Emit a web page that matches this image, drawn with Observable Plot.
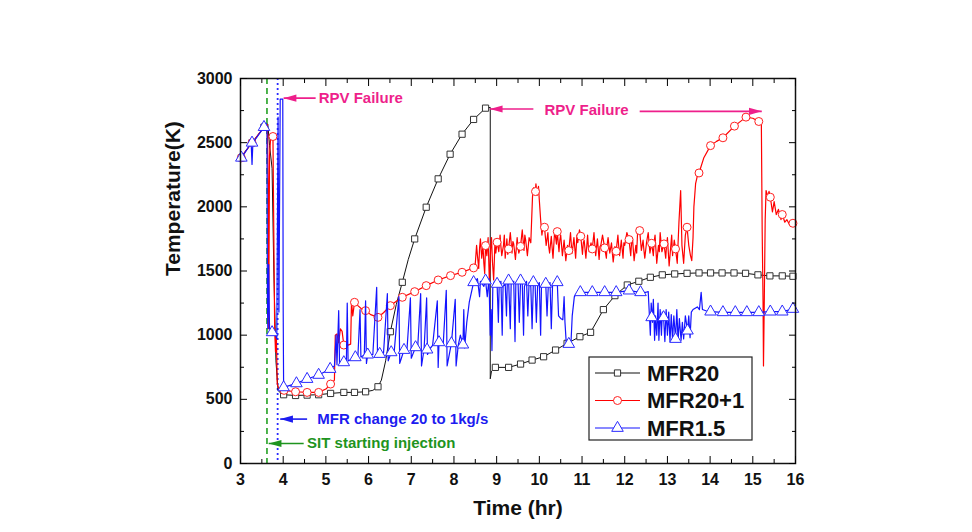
<!DOCTYPE html>
<html>
<head>
<meta charset="utf-8">
<script src="https://cdn.jsdelivr.net/npm/d3@7"></script>
<script src="https://cdn.jsdelivr.net/npm/@observablehq/plot@0.6"></script>
<style>
  html, body { margin: 0; padding: 0; background: #fff; }
  #chart { width: 972px; height: 532px; }
</style>
</head>
<body>
<div id="chart"></div>
<script>
// ---------- data (time [hr], temperature [K]) ----------
const xTicks = [3,4,5,6,7,8,9,10,11,12,13,14,15,16];
const yTicks = [0,500,1000,1500,2000,2500,3000];
const seriesNames = ["MFR20", "MFR20+1", "MFR1.5"];

const mfr20Line = [[3.0,2382],[3.27,2499],[3.55,2621],[3.64,2645],[3.68,2480],[3.74,2300],[3.78,1500],[3.83,800],[3.88,570],[3.95,545],[4.01,536],[4.29,530],[4.56,533],[4.83,536],[5.11,546],[5.42,554],[5.67,554],[5.93,559],[6.1,570],[6.22,598],[6.3,650],[6.4,800],[6.51,1027],[6.65,1240],[6.79,1412],[6.93,1590],[7.08,1750],[7.35,1997],[7.63,2218],[7.91,2410],[8.19,2566],[8.46,2681],[8.74,2769],[8.85,2775],[8.85,660],[8.88,720],[8.97,749],[9.28,749],[9.56,775],[9.83,806],[10.1,832],[10.38,884],[10.65,936],[10.95,988],[11.2,1022],[11.35,1110],[11.5,1199],[11.77,1308],[12.06,1391],[12.33,1420],[12.6,1451],[12.88,1470],[13.17,1477],[13.46,1482],[13.74,1485],[14.01,1485],[14.28,1485],[14.56,1485],[14.83,1482],[15.12,1470],[15.4,1462],[15.69,1462],[15.94,1459],[16.0,1458]];
const mfr20Marks = [[3.02,2382],[3.27,2499],[3.55,2621],[4.01,536],[4.29,530],[4.56,533],[4.83,536],[5.11,546],[5.42,554],[5.67,554],[5.93,559],[6.22,598],[6.51,1027],[6.79,1412],[7.08,1750],[7.35,1997],[7.63,2218],[7.91,2410],[8.19,2566],[8.46,2681],[8.74,2769],[8.97,749],[9.28,749],[9.56,775],[9.83,806],[10.1,832],[10.38,884],[10.65,936],[10.95,988],[11.2,1022],[11.5,1199],[11.77,1308],[12.06,1391],[12.33,1420],[12.6,1451],[12.88,1470],[13.17,1477],[13.46,1482],[13.74,1485],[14.01,1485],[14.28,1485],[14.56,1485],[14.83,1482],[15.12,1470],[15.4,1462],[15.69,1462],[15.94,1459]];

const mfr201Line = [[3.0,2382],[3.27,2499],[3.55,2621],[3.63,2640],[3.65,2150],[3.66,1050],[3.68,2400],[3.71,2560],[3.76,2548],[3.78,1800],[3.8,1060],[3.82,870],[3.84,1000],[3.86,620],[3.9,580],[4.02,570],[4.29,559],[4.56,554],[4.83,554],[5.0,580],[5.11,619],[5.2,650],[5.22,1000],[5.26,1010],[5.3,940],[5.34,1050],[5.38,1030],[5.42,923],[5.5,920],[5.58,930],[5.6,1260],[5.63,1150],[5.67,1256],[5.75,1230],[5.85,1200],[5.93,1191],[6.05,1160],[6.22,1139],[6.35,1175],[6.51,1230],[6.65,1265],[6.79,1295],[7.08,1339],[7.35,1386],[7.63,1430],[7.92,1464],[8.19,1490],[8.46,1524],
[8.50,1560],[8.53,1700],[8.55,1620],[8.58,1520],[8.60,1680],[8.62,1750],[8.65,1600],[8.68,1700],[8.70,1560],[8.72,1480],[8.74,1698],[8.77,1620],[8.80,1760],[8.83,1400],[8.86,1680],[8.88,1760],[8.90,1580],[8.93,1430],[8.96,1720],[8.98,1640],[9.01,1724],[9.05,1650],[9.08,1780],[9.10,1690],[9.12,1620],[9.16,1700],[9.18,1780],[9.20,1600],[9.24,1750],[9.26,1630],[9.28,1672],[9.32,1800],[9.36,1640],[9.38,1730],[9.40,1710],[9.44,1590],[9.48,1760],[9.50,1680],[9.52,1640],[9.56,1692],[9.60,1820],[9.64,1660],[9.66,1780],[9.68,1740],[9.72,1620],[9.76,1760],[9.80,1720],[9.84,2080],[9.87,2150],[9.90,2100],[9.92,2179],[9.95,2090],[9.98,2160],[10.00,2050],[10.03,1900],[10.06,1780],[10.09,1860],[10.12,1841],[10.16,1700],[10.20,1800],[10.22,1690],[10.24,1640],[10.28,1770],[10.30,1680],[10.32,1600],[10.36,1820],[10.40,1710],[10.42,1807],[10.46,1650],[10.48,1740],[10.50,1780],[10.54,1620],[10.58,1740],[10.60,1660],[10.62,1580],[10.66,1700],[10.69,1659],[10.73,1800],[10.75,1700],[10.77,1640],[10.81,1760],[10.85,1600],[10.88,1780],[10.90,1720],[10.94,1820],[10.97,1771],[11.01,1630],[11.03,1720],[11.05,1740],[11.09,1600],[11.13,1780],[11.15,1680],[11.17,1650],[11.21,1720],[11.24,1672],[11.28,1800],[11.30,1700],[11.32,1620],[11.36,1750],[11.40,1590],[11.42,1690],[11.44,1700],[11.48,1780],[11.53,1680],[11.57,1600],[11.59,1710],[11.61,1760],[11.65,1640],[11.69,1720],[11.71,1640],[11.73,1570],[11.77,1690],[11.80,1654],[11.84,1780],[11.86,1690],[11.88,1620],[11.92,1740],[11.96,1600],[11.98,1720],[12.00,1700],[12.05,1800],[12.10,1745],[12.14,1620],[12.16,1720],[12.18,1760],[12.22,1580],[12.26,1700],[12.28,1640],[12.30,1790],[12.35,1815],[12.39,1660],[12.43,1740],[12.45,1660],[12.47,1600],[12.51,1720],[12.55,1800],[12.59,1640],[12.63,1716],[12.67,1620],[12.69,1730],[12.71,1780],[12.75,1560],[12.79,1700],[12.81,1650],[12.83,1800],[12.87,1650],[12.92,1711],[12.96,1600],[12.98,1700],[13.00,1760],[13.04,1540],[13.08,1700],[13.10,1780],[13.12,1620],[13.16,1740],[13.19,1672],[13.23,1560],[13.27,1880],[13.31,2127],[13.34,1700],[13.38,1560],[13.42,1780],[13.46,1841],[13.50,1700],[13.54,1620],[13.57,1581],[13.60,1760],[13.62,2000],[13.66,2180],[13.70,2240],[13.74,2264],[13.85,2380],[14.01,2477],[14.15,2510],[14.30,2538],[14.57,2629],[14.84,2699],[15.00,2690],[15.14,2665],[15.20,2660],[15.22,1800],[15.24,1250],[15.25,760],[15.27,1300],[15.29,1900],[15.31,2127],[15.35,2080],[15.38,2120],[15.41,2075],[15.46,1960],[15.50,2040],[15.55,1940],[15.60,1980],[15.66,1900],[15.69,1940],[15.75,1880],[15.80,1900],[15.86,1860],[15.94,1872],[16.0,1870]];
const mfr201Marks = [[3.02,2382],[3.27,2499],[3.76,2548],[4.02,570],[4.29,559],[4.56,554],[4.83,554],[5.11,619],[5.42,923],[5.67,1256],[5.93,1191],[6.22,1139],[6.51,1230],[6.79,1295],[7.08,1339],[7.35,1386],[7.63,1430],[7.92,1464],[8.19,1490],[8.46,1524],[8.74,1698],[9.01,1724],[9.28,1672],[9.56,1692],[9.91,2119],[10.12,1841],[10.42,1807],[10.69,1659],[10.97,1771],[11.24,1672],[11.53,1680],[11.80,1654],[12.10,1745],[12.35,1815],[12.63,1716],[12.92,1711],[13.19,1672],[13.46,1841],[13.74,2264],[14.01,2477],[14.30,2538],[14.57,2629],[14.84,2699],[15.14,2665],[15.41,2075],[15.69,1940],[15.94,1872]];

const mfr15Line = [[3.0,2382],[3.1,2420],[3.25,2499],[3.27,2330],[3.29,2499],[3.55,2621],[3.6,2650],[3.62,2600],[3.63,1300],[3.64,1050],[3.66,1550],[3.68,1050],[3.74,1022],[3.82,1010],[3.85,972],[3.88,2700],[3.9,1180],[3.93,2840],[3.99,2840],[4.0,1200],[4.01,593],[4.31,624],[4.56,658],[4.83,690],[5.1,736],[5.2,760],[5.24,1000],[5.26,770],[5.30,1191],[5.32,780],[5.42,788],[5.48,790],[5.50,1250],[5.52,800],[5.60,810],[5.69,827],[5.75,835],[5.80,1200],[5.82,830],[5.90,845],[5.93,1268],[5.95,780],[5.98,848],[6.10,850],[6.19,1373],[6.21,830],[6.26,853],[6.35,860],[6.44,1323],[6.46,800],[6.53,866],[6.60,870],[6.71,1300],[6.73,780],[6.83,884],[6.90,890],[6.98,1290],[7.00,820],[7.10,905],[7.15,900],[7.22,1323],[7.24,760],[7.30,890],[7.36,1290],[7.38,850],[7.45,900],[7.50,920],[7.61,1268],[7.63,749],[7.65,944],[7.75,940],[7.82,1350],[7.84,760],[7.94,936],[8.03,1280],[8.05,760],[8.10,920],[8.15,1000],[8.21,926],[8.23,1200],[8.25,900],[8.30,1100],[8.36,1260],[8.46,1412],[8.55,1440],[8.60,1300],[8.62,1420],[8.70,1380],[8.74,1425],[8.78,1300],[8.82,1440],[8.85,1000],[8.87,1200],[8.89,880],[8.91,1380],[8.95,1420],[9.01,1399],[9.04,1100],[9.06,1400],[9.10,1420],[9.13,1000],[9.15,1380],[9.20,1400],[9.23,1150],[9.25,1420],[9.28,1425],[9.32,1050],[9.34,1400],[9.40,1420],[9.43,950],[9.45,1410],[9.50,1420],[9.53,1100],[9.56,1425],[9.60,1400],[9.63,1000],[9.65,1380],[9.70,1420],[9.73,1150],[9.76,1410],[9.80,1380],[9.83,1050],[9.86,1412],[9.90,1400],[9.93,1100],[9.96,1390],[10.00,1410],[10.03,1000],[10.05,1380],[10.10,1400],[10.15,1399],[10.18,1150],[10.21,1390],[10.25,1410],[10.28,1050],[10.31,1400],[10.36,1410],[10.42,1412],[10.45,1150],[10.50,1130],[10.55,1120],[10.58,1300],[10.60,1100],[10.63,940],[10.69,931],[10.74,935],[10.77,1150],[10.82,1300],[10.87,1323],[10.96,1334],[11.24,1334],[11.53,1334],[11.80,1334],[12.10,1347],[12.37,1334],[12.50,1334],[12.55,1340],[12.58,1139],[12.60,1000],[12.62,1250],[12.65,1100],[12.67,1280],[12.70,960],[12.72,1150],[12.75,1000],[12.78,1250],[12.80,960],[12.83,1200],[12.86,1000],[12.88,1180],[12.91,1139],[12.94,950],[12.97,1200],[13.00,1000],[13.03,1180],[13.06,950],[13.09,1160],[13.12,960],[13.15,1150],[13.19,970],[13.22,1200],[13.25,950],[13.28,1130],[13.32,960],[13.35,1100],[13.38,970],[13.42,1150],[13.47,1035],[13.50,1150],[13.53,980],[13.56,1180],[13.60,1200],[13.70,1220],[13.75,1200],[13.79,1334],[13.82,1200],[13.90,1190],[14.01,1183],[14.30,1178],[14.59,1178],[14.86,1178],[15.14,1178],[15.41,1183],[15.69,1183],[15.94,1204],[16.0,1215]];
const mfr15Marks = [[3.02,2382],[3.27,2499],[3.55,2621],[3.74,1022],[4.01,593],[4.31,624],[4.56,658],[4.83,690],[5.1,736],[5.42,788],[5.69,827],[5.98,848],[6.26,853],[6.53,866],[6.83,884],[7.1,905],[7.37,887],[7.65,944],[7.94,936],[8.21,926],[8.46,1412],[8.74,1425],[9.01,1399],[9.28,1425],[9.56,1425],[9.86,1412],[10.15,1399],[10.42,1412],[10.69,931],[10.96,1334],[11.24,1334],[11.53,1334],[11.80,1334],[12.10,1347],[12.37,1334],[12.63,1139],[12.91,1139],[13.19,970],[13.47,1035],[14.01,1183],[14.30,1178],[14.59,1178],[14.86,1178],[15.14,1178],[15.41,1183],[15.69,1183],[15.94,1204]];

// event lines
const sitTime = 3.62;       // SIT starting injection
const mfrChangeTime = 3.87; // MFR change

// annotations: [text, x, y, colour]
const annoTexts = [
  ["RPV Failure", 4.83, 2847, "#ee1f8b"],
  ["RPV Failure", 10.12, 2752, "#ee1f8b"],
  ["MFR change 20 to 1kg/s", 4.8, 346, "#1c1cf0"],
  ["SIT starting injection", 4.56, 156, "#1e941e"]
];
// arrows: [xFrom, xTip, y, colour, direction]
const annoArrows = [
  [4.76, 4.01, 2847, "#ee1f8b", "left"],
  [9.86, 8.84, 2762, "#ee1f8b", "left"],
  [12.35, 15.21, 2744, "#ee1f8b", "right"],
  [4.56, 3.93, 346, "#1c1cf0", "left"],
  [4.48, 3.66, 156, "#1e941e", "left"]
];

// ---------- drawing ----------
const FONT = "'Liberation Sans', Arial, Helvetica, sans-serif";
const headLeft = {draw(ctx, size) { const s = Math.sqrt(size); ctx.moveTo(0,0); ctx.lineTo(s*1.8,-s*0.5); ctx.lineTo(s*1.8,s*0.5); ctx.closePath(); }};
const headRight = {draw(ctx, size) { const s = Math.sqrt(size); ctx.moveTo(0,0); ctx.lineTo(-s*1.8,-s*0.5); ctx.lineTo(-s*1.8,s*0.5); ctx.closePath(); }};

const minorX = d3.range(3.5, 16, 1);
const minorY = d3.range(250, 3000, 500);
const fmt = d => `${d}`;

const X = d => d[0], Y = d => d[1];

const plot = Plot.plot({
  width: 972,
  height: 532,
  marginLeft: 240,
  marginRight: 177,
  marginTop: 78,
  marginBottom: 69,
  style: {fontFamily: FONT, background: "white", overflow: "visible"},
  x: {domain: [3, 16]},
  y: {domain: [0, 3000]},
  marks: [
    // vertical event lines
    Plot.ruleX([sitTime], {stroke: "#22a022", strokeWidth: 1.6, strokeDasharray: "6,4"}),
    Plot.ruleX([mfrChangeTime], {stroke: "#2a2aff", strokeWidth: 1.8, strokeDasharray: "2,3"}),
    // series
    Plot.line(mfr20Line, {x: X, y: Y, stroke: "#111", strokeWidth: 1}),
    Plot.dot(mfr20Marks, {x: X, y: Y, symbol: "square", r: 3.5, fill: "white", stroke: "#333", strokeWidth: 1}),
    Plot.line(mfr201Line, {x: X, y: Y, stroke: "#ff0000", strokeWidth: 1.2}),
    Plot.dot(mfr201Marks, {x: X, y: Y, symbol: "circle", r: 4, fill: "white", stroke: "#ff2020", strokeWidth: 1}),
    Plot.line(mfr15Line, {x: X, y: Y, stroke: "#1414ff", strokeWidth: 1.2}),
    Plot.dot(mfr15Marks, {x: X, y: Y, symbol: "triangle", r: 4.3, fill: "white", stroke: "#2a2aff", strokeWidth: 1}),
    // annotations
    Plot.link(annoArrows, {x1: d => d[0], x2: d => d[1], y1: d => d[2], y2: d => d[2], stroke: d => d[3], strokeWidth: 1.6}),
    Plot.dot(annoArrows.filter(d => d[4] === "left"), {x: d => d[1], y: d => d[2], symbol: headLeft, r: 4, fill: d => d[3], stroke: "none"}),
    Plot.dot(annoArrows.filter(d => d[4] === "right"), {x: d => d[1], y: d => d[2], symbol: headRight, r: 4, fill: d => d[3], stroke: "none"}),
    Plot.text(annoTexts, {x: d => d[1], y: d => d[2], text: d => d[0], fill: d => d[3], textAnchor: "start", fontSize: 15, fontWeight: "bold"}),
    // frame and axes (ticks inward)
    Plot.frame({stroke: "#111", strokeWidth: 1.5}),
    Plot.axisX(xTicks, {anchor: "bottom", tickSize: 0, tickPadding: 10, fontSize: 16, fontWeight: "bold", label: null, tickFormat: fmt, fill: "#111"}),
    Plot.axisX(xTicks, {anchor: "bottom", tickSize: -7, text: null, label: null}),
    Plot.axisX(minorX, {anchor: "bottom", tickSize: -4, text: null, label: null}),
    Plot.axisX(xTicks, {anchor: "top", tickSize: -7, text: null, label: null}),
    Plot.axisX(minorX, {anchor: "top", tickSize: -4, text: null, label: null}),
    Plot.axisY(yTicks, {anchor: "left", tickSize: 0, tickPadding: 8, fontSize: 16, fontWeight: "bold", label: null, tickFormat: fmt, fill: "#111"}),
    Plot.axisY(yTicks, {anchor: "left", tickSize: -7, text: null, label: null}),
    Plot.axisY(minorY, {anchor: "left", tickSize: -4, text: null, label: null}),
    Plot.axisY(yTicks, {anchor: "right", tickSize: -7, text: null, label: null}),
    Plot.axisY(minorY, {anchor: "right", tickSize: -4, text: null, label: null}),
    // axis titles
    Plot.text(["Temperature(K)"], {frameAnchor: "left", dx: -67, dy: 5, rotate: -90, fontSize: 21, fontWeight: "bold", fill: "#111"}),
    Plot.text(["Time (hr)"], {frameAnchor: "bottom", dy: 51, fontSize: 21, fontWeight: "bold", fill: "#111"})
  ]
});

document.getElementById("chart").appendChild(plot);

// ---------- legend ----------
const svg = d3.select(plot);
const lg = svg.append("g").attr("font-family", FONT).attr("text-anchor", "start");
const lx = 589, ly = 357, lw = 163, lh = 83;
lg.append("rect").attr("x", lx).attr("y", ly).attr("width", lw).attr("height", lh)
  .attr("fill", "white").attr("stroke", "#222").attr("stroke-width", 1.2);
const legendStyles = [
  {stroke: "#111", mstroke: "#333", sym: d3.symbolSquare, r: 3.5},
  {stroke: "#ff0000", mstroke: "#ff2020", sym: d3.symbolCircle, r: 4},
  {stroke: "#1414ff", mstroke: "#2a2aff", sym: d3.symbolTriangle, r: 4.3}
];
const rowY = [373, 400.5, 428];
seriesNames.forEach((name, i) => {
  const s = legendStyles[i], y = rowY[i];
  lg.append("line").attr("x1", 595).attr("x2", 640).attr("y1", y).attr("y2", y)
    .attr("stroke", s.stroke).attr("stroke-width", 1.2);
  lg.append("path").attr("d", d3.symbol(s.sym, Math.PI * s.r * s.r)())
    .attr("transform", `translate(617.5,${y})`).attr("fill", "white").attr("stroke", s.mstroke);
  lg.append("text").attr("x", 647).attr("y", y).attr("dy", "0.36em").attr("text-anchor", "start")
    .attr("font-size", 22).attr("font-weight", "bold").attr("fill", "#111").text(name);
});
</script>
</body>
</html>
